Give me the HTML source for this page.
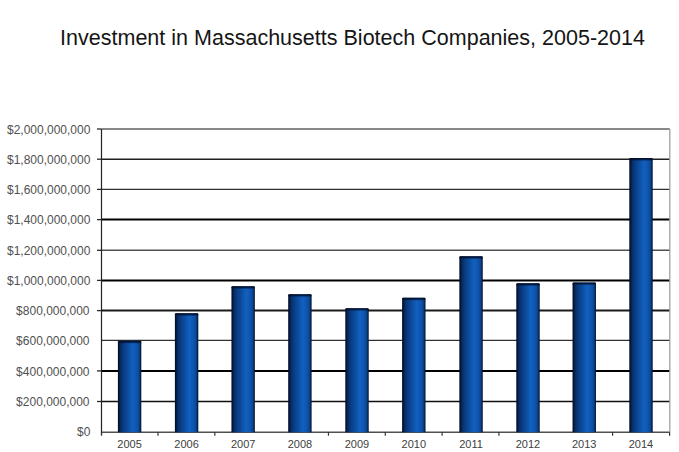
<!DOCTYPE html>
<html><head><meta charset="utf-8"><style>
html,body{margin:0;padding:0;background:#fff;width:679px;height:452px;overflow:hidden;position:relative}
.t{position:absolute;top:26.5px;left:12.8px;width:679px;text-align:center;font:22px/1 "Liberation Sans",sans-serif;color:#151515;white-space:nowrap;transform:scaleX(0.978)}
.yl{position:absolute;right:589px;font:13px/15px "Liberation Sans",sans-serif;transform:scaleX(0.923);transform-origin:100% 50%;color:#505050;white-space:nowrap;text-align:right}
.xl{position:absolute;top:438px;width:40px;text-align:center;font:11px/13px "Liberation Sans",sans-serif;color:#404040}
</style></head><body>
<svg width="679" height="452" viewBox="0 0 679 452" style="position:absolute;left:0;top:0"><defs><linearGradient id="g" x1="0" x2="1" y1="0" y2="0"><stop offset="0" stop-color="#020a1e"/><stop offset="0.05" stop-color="#04163c"/><stop offset="0.12" stop-color="#072c64"/><stop offset="0.24" stop-color="#0a3c82"/><stop offset="0.42" stop-color="#0c4c9e"/><stop offset="0.62" stop-color="#1260c0"/><stop offset="0.78" stop-color="#0f56b0"/><stop offset="0.89" stop-color="#0b4a98"/><stop offset="0.94" stop-color="#07346e"/><stop offset="0.975" stop-color="#041a42"/><stop offset="1" stop-color="#020c24"/></linearGradient><linearGradient id="tg" x1="0" x2="0" y1="0" y2="1"><stop offset="0" stop-color="#020a1e" stop-opacity="0.95"/><stop offset="0.5" stop-color="#03102c" stop-opacity="0.8"/><stop offset="1" stop-color="#05183e" stop-opacity="0"/></linearGradient></defs><line x1="101.5" y1="129.0" x2="669.8" y2="129.0" stroke="#606060" stroke-width="1.5"/><line x1="97" y1="129.0" x2="101.5" y2="129.0" stroke="#2a2a2a" stroke-width="1.3"/><line x1="101.5" y1="159.2" x2="669.8" y2="159.2" stroke="#202020" stroke-width="1.5"/><line x1="97" y1="159.2" x2="101.5" y2="159.2" stroke="#2a2a2a" stroke-width="1.3"/><line x1="101.5" y1="189.4" x2="669.8" y2="189.4" stroke="#303030" stroke-width="1.2"/><line x1="97" y1="189.4" x2="101.5" y2="189.4" stroke="#2a2a2a" stroke-width="1.3"/><line x1="101.5" y1="219.6" x2="669.8" y2="219.6" stroke="#000" stroke-width="2.0"/><line x1="97" y1="219.6" x2="101.5" y2="219.6" stroke="#2a2a2a" stroke-width="1.3"/><line x1="101.5" y1="250.3" x2="669.8" y2="250.3" stroke="#505050" stroke-width="1.4"/><line x1="97" y1="250.3" x2="101.5" y2="250.3" stroke="#2a2a2a" stroke-width="1.3"/><line x1="101.5" y1="280.4" x2="669.8" y2="280.4" stroke="#000" stroke-width="2.0"/><line x1="97" y1="280.4" x2="101.5" y2="280.4" stroke="#2a2a2a" stroke-width="1.3"/><line x1="101.5" y1="310.6" x2="669.8" y2="310.6" stroke="#1a1a1a" stroke-width="2.0"/><line x1="97" y1="310.6" x2="101.5" y2="310.6" stroke="#2a2a2a" stroke-width="1.3"/><line x1="101.5" y1="340.4" x2="669.8" y2="340.4" stroke="#303030" stroke-width="1.3"/><line x1="101.5" y1="370.9" x2="669.8" y2="370.9" stroke="#000" stroke-width="2.0"/><line x1="97" y1="370.9" x2="101.5" y2="370.9" stroke="#2a2a2a" stroke-width="1.3"/><line x1="101.5" y1="401.5" x2="669.8" y2="401.5" stroke="#101010" stroke-width="1.6"/><line x1="97" y1="401.5" x2="101.5" y2="401.5" stroke="#2a2a2a" stroke-width="1.3"/><line x1="101.5" y1="432.2" x2="669.8" y2="432.2" stroke="#505050" stroke-width="1.5"/><line x1="101.5" y1="129.0" x2="101.5" y2="435.2" stroke="#222" stroke-width="1.2"/><line x1="669.8" y1="129.0" x2="669.8" y2="432.2" stroke="#999" stroke-width="1.2"/><line x1="101.5" y1="432.2" x2="101.5" y2="435.7" stroke="#333" stroke-width="1.2"/><line x1="158.01" y1="432.2" x2="158.01" y2="435.7" stroke="#333" stroke-width="1.2"/><line x1="214.82999999999998" y1="432.2" x2="214.82999999999998" y2="435.7" stroke="#333" stroke-width="1.2"/><line x1="328.47" y1="432.2" x2="328.47" y2="435.7" stroke="#333" stroke-width="1.2"/><line x1="385.29" y1="432.2" x2="385.29" y2="435.7" stroke="#333" stroke-width="1.2"/><line x1="442.11" y1="432.2" x2="442.11" y2="435.7" stroke="#333" stroke-width="1.2"/><line x1="498.93" y1="432.2" x2="498.93" y2="435.7" stroke="#333" stroke-width="1.2"/><line x1="612.5699999999999" y1="432.2" x2="612.5699999999999" y2="435.7" stroke="#333" stroke-width="1.2"/><line x1="669.6" y1="432.2" x2="669.6" y2="435.7" stroke="#333" stroke-width="1.2"/><path d="M117.90,432.2 V342.00 Q117.90,340.8 119.10,340.8 H140.10 Q141.30,340.8 141.30,342.00 V432.2 Z" fill="url(#g)"/><path d="M117.90,343.80 V342.00 Q117.90,340.8 119.10,340.8 H140.10 Q141.30,340.8 141.30,342.00 V343.80 Z" fill="url(#tg)"/><path d="M174.90,432.2 V314.50 Q174.90,313.3 176.10,313.3 H197.10 Q198.30,313.3 198.30,314.50 V432.2 Z" fill="url(#g)"/><path d="M174.90,316.30 V314.50 Q174.90,313.3 176.10,313.3 H197.10 Q198.30,313.3 198.30,314.50 V316.30 Z" fill="url(#tg)"/><path d="M231.45,432.2 V287.50 Q231.45,286.3 232.65,286.3 H253.65 Q254.85,286.3 254.85,287.50 V432.2 Z" fill="url(#g)"/><path d="M231.45,289.30 V287.50 Q231.45,286.3 232.65,286.3 H253.65 Q254.85,286.3 254.85,287.50 V289.30 Z" fill="url(#tg)"/><path d="M288.20,432.2 V295.40 Q288.20,294.2 289.40,294.2 H310.40 Q311.60,294.2 311.60,295.40 V432.2 Z" fill="url(#g)"/><path d="M288.20,297.20 V295.40 Q288.20,294.2 289.40,294.2 H310.40 Q311.60,294.2 311.60,295.40 V297.20 Z" fill="url(#tg)"/><path d="M345.30,432.2 V309.40 Q345.30,308.2 346.50,308.2 H367.50 Q368.70,308.2 368.70,309.40 V432.2 Z" fill="url(#g)"/><path d="M345.30,311.20 V309.40 Q345.30,308.2 346.50,308.2 H367.50 Q368.70,308.2 368.70,309.40 V311.20 Z" fill="url(#tg)"/><path d="M402.10,432.2 V299.00 Q402.10,297.8 403.30,297.8 H424.30 Q425.50,297.8 425.50,299.00 V432.2 Z" fill="url(#g)"/><path d="M402.10,300.80 V299.00 Q402.10,297.8 403.30,297.8 H424.30 Q425.50,297.8 425.50,299.00 V300.80 Z" fill="url(#tg)"/><path d="M459.35,432.2 V257.50 Q459.35,256.3 460.55,256.3 H481.55 Q482.75,256.3 482.75,257.50 V432.2 Z" fill="url(#g)"/><path d="M459.35,259.30 V257.50 Q459.35,256.3 460.55,256.3 H481.55 Q482.75,256.3 482.75,257.50 V259.30 Z" fill="url(#tg)"/><path d="M516.30,432.2 V284.50 Q516.30,283.3 517.50,283.3 H538.50 Q539.70,283.3 539.70,284.50 V432.2 Z" fill="url(#g)"/><path d="M516.30,286.30 V284.50 Q516.30,283.3 517.50,283.3 H538.50 Q539.70,283.3 539.70,284.50 V286.30 Z" fill="url(#tg)"/><path d="M572.55,432.2 V283.70 Q572.55,282.5 573.75,282.5 H594.75 Q595.95,282.5 595.95,283.70 V432.2 Z" fill="url(#g)"/><path d="M572.55,285.50 V283.70 Q572.55,282.5 573.75,282.5 H594.75 Q595.95,282.5 595.95,283.70 V285.50 Z" fill="url(#tg)"/><path d="M629.30,432.2 V159.30 Q629.30,158.1 630.50,158.1 H651.50 Q652.70,158.1 652.70,159.30 V432.2 Z" fill="url(#g)"/><path d="M629.30,161.10 V159.30 Q629.30,158.1 630.50,158.1 H651.50 Q652.70,158.1 652.70,159.30 V161.10 Z" fill="url(#tg)"/></svg>
<div class="t">Investment in Massachusetts Biotech Companies, 2005-2014</div>
<div class="yl" style="top:121.70px">$2,000,000,000</div><div class="yl" style="top:151.90px">$1,800,000,000</div><div class="yl" style="top:182.10px">$1,600,000,000</div><div class="yl" style="top:212.30px">$1,400,000,000</div><div class="yl" style="top:243.00px">$1,200,000,000</div><div class="yl" style="top:273.10px">$1,000,000,000</div><div class="yl" style="top:303.30px">$800,000,000</div><div class="yl" style="top:333.10px">$600,000,000</div><div class="yl" style="top:363.60px">$400,000,000</div><div class="yl" style="top:394.20px">$200,000,000</div><div class="yl" style="top:423.90px">$0</div><div class="xl" style="left:109.60px">2005</div><div class="xl" style="left:166.60px">2006</div><div class="xl" style="left:223.15px">2007</div><div class="xl" style="left:279.90px">2008</div><div class="xl" style="left:337.00px">2009</div><div class="xl" style="left:393.80px">2010</div><div class="xl" style="left:451.05px">2011</div><div class="xl" style="left:508.00px">2012</div><div class="xl" style="left:564.25px">2013</div><div class="xl" style="left:621.00px">2014</div>
</body></html>
